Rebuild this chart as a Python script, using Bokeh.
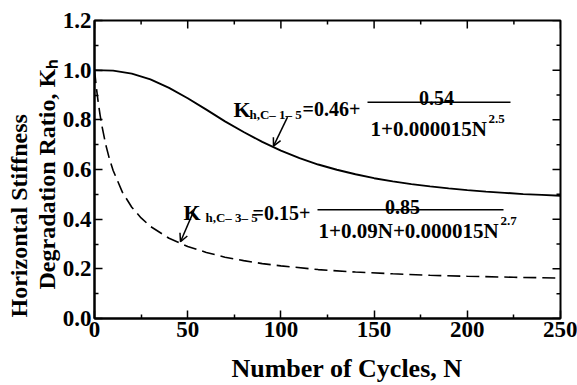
import numpy as np
from bokeh.plotting import figure
from bokeh.models import (Range1d, LinearAxis, FixedTicker, PrintfTickFormatter,
                          Label, Arrow, OpenHead, Title)
from bokeh.embed import file_html
from bokeh.resources import INLINE

# ---- data ----
cycles_c15 = [0, 10, 20, 30, 40, 50, 60, 70, 80, 90, 100, 110, 120, 130, 140,
              150, 160, 170, 180, 190, 200, 210, 220, 230, 240, 250]
k_c15 = [1.000, 0.998, 0.986, 0.963, 0.929, 0.887, 0.841, 0.794, 0.751, 0.711,
         0.676, 0.646, 0.620, 0.599, 0.581, 0.565, 0.552, 0.541, 0.532, 0.524,
         0.517, 0.511, 0.506, 0.501, 0.498, 0.494]

cycles_c35 = [0, 1, 2, 3, 4, 6, 8, 10, 15, 20, 25, 30, 40, 50, 60, 70, 80, 90,
              100, 120, 140, 160, 180, 200, 225, 250]
k_c35 = [1.000, 0.930, 0.870, 0.819, 0.775, 0.701, 0.643, 0.596, 0.508, 0.448,
         0.405, 0.371, 0.323, 0.290, 0.266, 0.247, 0.233, 0.221, 0.212, 0.197,
         0.187, 0.180, 0.174, 0.170, 0.166, 0.163]

x_ticks = [0, 50, 100, 150, 200, 250]
x_minor = [25, 75, 125, 175, 225]
y_ticks = [0.0, 0.2, 0.4, 0.6, 0.8, 1.0, 1.2]
y_minor = [0.1, 0.3, 0.5, 0.7, 0.9, 1.1]

FONT = "Liberation Serif"

# frame geometry in pixels
L, R, T, B = 94, 560, 20, 319
W, H = 577, 385
XMAX, YMAX = 250.0, 1.2


def dx(px):
    return (px - L) / (R - L) * XMAX


def dy(py):
    return (B - py) / (B - T) * YMAX


p = figure(width=W, height=H, output_backend="svg", toolbar_location=None,
           x_range=Range1d(0, XMAX), y_range=Range1d(0, YMAX),
           min_border_left=L, min_border_right=W - R,
           min_border_top=T, min_border_bottom=H - B,
           x_axis_location=None, y_axis_location=None)
p.grid.visible = False
p.outline_line_color = "black"
p.outline_line_width = 2
p.background_fill_color = "white"
p.border_fill_color = "white"


def style(ax):
    ax.axis_line_width = 2
    ax.axis_line_color = "black"
    ax.major_tick_in = 8
    ax.major_tick_out = 0
    ax.minor_tick_in = 4
    ax.minor_tick_out = 0
    ax.major_tick_line_width = 1.5
    ax.minor_tick_line_width = 1.5
    ax.major_label_text_font = FONT
    ax.major_label_text_font_style = "bold"
    ax.major_label_text_color = "black"
    ax.major_label_text_font_size = "23px"
    ax.major_label_standoff = 3


bottom = LinearAxis(ticker=FixedTicker(ticks=x_ticks, minor_ticks=x_minor),
                    axis_label="\u00a0" * 6 + "Number of Cycles, N")
style(bottom)
bottom.axis_label_text_font = FONT
bottom.axis_label_text_font_style = "bold"
bottom.axis_label_text_font_size = "26px"
bottom.axis_label_text_color = "black"
bottom.axis_label_standoff = 14
p.add_layout(bottom, "below")

left = LinearAxis(ticker=FixedTicker(ticks=y_ticks, minor_ticks=y_minor),
                  formatter=PrintfTickFormatter(format="%.1f"))
style(left)
p.add_layout(left, "left")


def title(text, side, size, offset, standoff):
    t = Title(text=text, align="left", offset=offset, standoff=standoff,
              text_font=FONT, text_font_style="bold",
              text_font_size=f"{size}px", text_color="black")
    p.add_layout(t, side)


title("Degradation Ratio, K\u2095", "left", 24, 29, 0)
title("Horizontal Stiffness", "left", 24, 1, 0)

# ticks on the top and right edges (no labels)
tick_x = 8 / (B - T) * YMAX
tick_y = 8 / (R - L) * XMAX
p.segment(x0=x_ticks, y0=[YMAX] * len(x_ticks), x1=x_ticks,
          y1=[YMAX - tick_x] * len(x_ticks), line_color="black", line_width=1.5)
p.segment(x0=x_minor, y0=[YMAX] * len(x_minor), x1=x_minor,
          y1=[YMAX - tick_x / 2] * len(x_minor), line_color="black", line_width=1.5)
p.segment(x0=[XMAX] * len(y_ticks), y0=y_ticks, x1=[XMAX - tick_y] * len(y_ticks),
          y1=y_ticks, line_color="black", line_width=1.5)
p.segment(x0=[XMAX] * len(y_minor), y0=y_minor, x1=[XMAX - tick_y / 2] * len(y_minor),
          y1=y_minor, line_color="black", line_width=1.5)

# curves
p.line(cycles_c15, k_c15, line_color="black", line_width=1.9)
p.line(cycles_c35, k_c35, line_color="black", line_width=1.6, line_dash="13 6")


def lab(text, px, py, size, align="left"):
    p.add_layout(Label(x=dx(px), y=dy(py), text=text, text_font=FONT,
                       text_font_style="bold", text_font_size=f"{size}px",
                       text_color="black", text_align=align,
                       text_baseline="alphabetic"))


# equation for C-1-5
lab("K", 233, 109, 22)
lab("h,C\u2013 1\u2013 5", 249, 114, 13)
lab("=0.46+", 302, 109, 20)
p.segment(x0=[dx(367)], y0=[dy(102)], x1=[dx(510)], y1=[dy(102)],
          line_color="black", line_width=1.5)
lab("0.54", 436, 98, 20, align="center")
lab("1+0.000015N", 370, 129, 21)
lab("2.5", 488, 119, 13)

# equation for C-3-5
lab("K", 183, 213, 22)
lab("h,C\u2013 3\u2013 5", 205, 218, 13)
lab("=0.15+", 252, 213, 20)
p.segment(x0=[dx(317)], y0=[dy(210)], x1=[dx(503)], y1=[dy(210)],
          line_color="black", line_width=1.5)
lab("0.85", 402, 207, 20, align="center")
lab("1+0.09N+0.000015N", 318, 231, 21)
lab("2.7", 500, 221, 13)

# pointer arrows
p.add_layout(Arrow(end=OpenHead(size=8, line_width=1.5), line_width=1.5,
                   x_start=dx(287), y_start=dy(117),
                   x_end=dx(273), y_end=dy(146)))
p.add_layout(Arrow(end=OpenHead(size=8, line_width=1.5), line_width=1.5,
                   x_start=dx(195), y_start=dy(207),
                   x_end=dx(180), y_end=dy(242)))

open("out.html", "w").write(file_html(p, INLINE))
